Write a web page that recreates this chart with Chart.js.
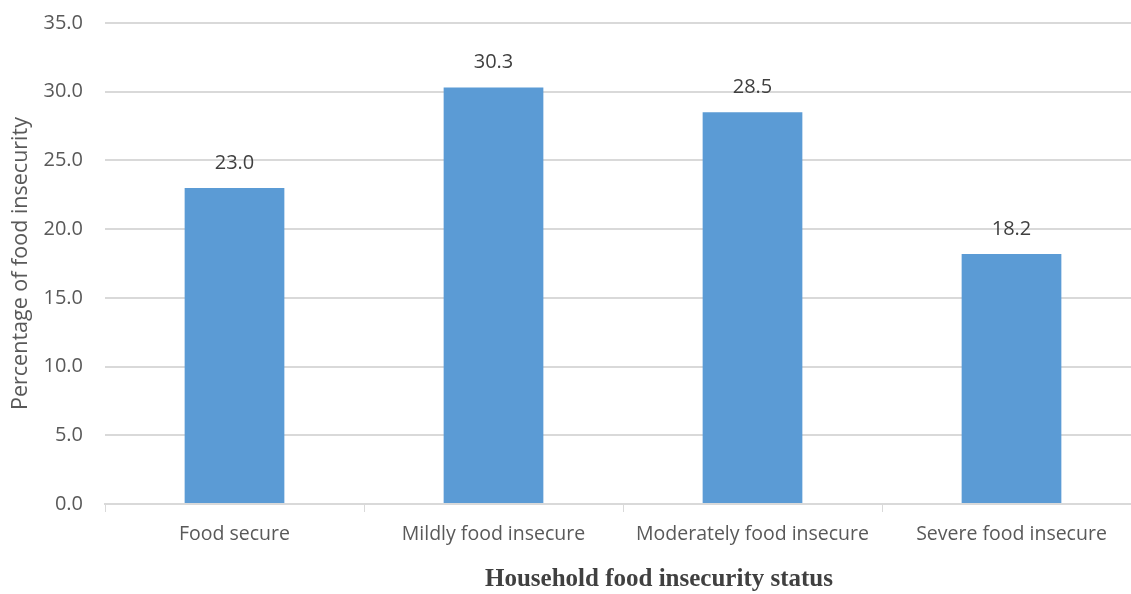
<!DOCTYPE html>
<html>
<head>
<meta charset="utf-8">
<script src="https://cdn.jsdelivr.net/npm/chart.js@4/dist/chart.umd.min.js"></script>
<style>
  html, body { margin: 0; padding: 0; background: #fff; overflow: hidden; }
  #wrap { width: 1145px; height: 594px; position: relative; }
</style>
</head>
<body>
<div id="wrap"><canvas id="foodChart"></canvas></div>
<script>
// ================= DATA =================
const categories = ["Food secure", "Mildly food insecure", "Moderately food insecure", "Severe food insecure"];
const percentages = [23.0, 30.3, 28.5, 18.2];
const yTicks = [0, 5, 10, 15, 20, 25, 30, 35];
const xTitle = "Household food insecurity status";
const yTitle = "Percentage of food insecurity";

// value labels above each bar
const valueLabels = {
    id: "valueLabels",
    afterDatasetsDraw(chart) {
        const ctx = chart.ctx;
        const meta = chart.getDatasetMeta(0);
        ctx.save();
        ctx.font = "20px 'Open Sans'";
        ctx.fillStyle = "#404040";
        ctx.textAlign = "center";
        ctx.textBaseline = "middle";
        meta.data.forEach((bar, i) => {
            ctx.fillText(percentages[i].toFixed(1), bar.x, bar.y - 25);
        });
        ctx.restore();
    }
};

// bottom axis title (sits right of centre in the original)
const bottomTitle = {
    id: "bottomTitle",
    afterDraw(chart) {
        const ctx = chart.ctx;
        ctx.save();
        ctx.font = "bold 25px 'Liberation Serif'";
        ctx.fillStyle = "#404040";
        ctx.textAlign = "center";
        ctx.textBaseline = "middle";
        ctx.fillText(xTitle, 659, 580);
        ctx.restore();
    }
};

new Chart(document.getElementById("foodChart"), {
    type: "bar",
    data: {
        labels: categories,
        datasets: [{
            data: percentages,
            backgroundColor: "#5B9BD5",
            categoryPercentage: 1,
            barPercentage: 0.385
        }]
    },
    options: {
        responsive: true,
        maintainAspectRatio: false,
        animation: false,
        layout: { padding: { top: 23, right: 4, left: 0, bottom: 0 } },
        plugins: {
            legend: { display: false },
            tooltip: { enabled: false }
        },
        scales: {
            x: {
                afterFit: (s) => { s.height = 90; },
                grid: {
                    offset: true,
                    drawOnChartArea: false,
                    drawTicks: true,
                    tickLength: 8,
                    color: "#d9d9d9"
                },
                border: { color: "#d9d9d9", width: 2 },
                ticks: {
                    color: "#595959",
                    font: { family: "'Open Sans'", size: 19.5 },
                    padding: 11,
                    maxRotation: 0
                }
            },
            y: {
                min: 0,
                max: 35,
                afterFit: (s) => { s.width = 105; s.paddingTop = 0; s.paddingBottom = 0; },
                afterBuildTicks: (s) => { s.ticks = yTicks.map(v => ({ value: v })); },
                grid: { color: "#d9d9d9", lineWidth: 2, drawTicks: false },
                border: { display: false },
                ticks: {
                    color: "#595959",
                    font: { family: "'Open Sans'", size: 20 },
                    padding: 22,
                    callback: (v) => v.toFixed(1)
                },
                title: {
                    display: true,
                    text: yTitle,
                    color: "#595959",
                    font: { family: "'Open Sans'", size: 21.5 },
                    padding: { top: 8, bottom: 0 }
                }
            }
        }
    },
    plugins: [valueLabels, bottomTitle]
});
</script>
</body>
</html>
